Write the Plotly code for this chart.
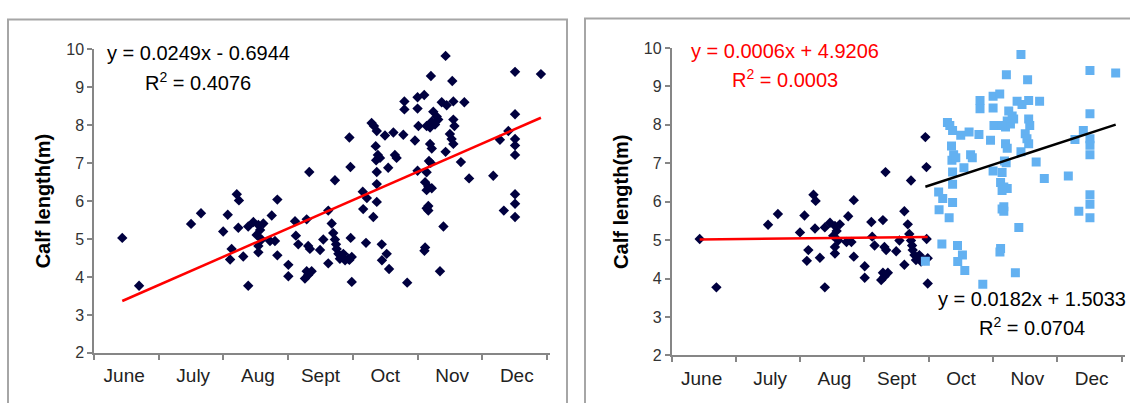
import plotly.graph_objects as go

# ---------------- data (day of year, calf length in m) ----------------
early_day = [163.1, 170.9, 195.0, 199.6, 209.9, 212.0, 213.8, 213.1, 216.2, 217.2,
             216.9, 219.2, 221.5, 221.5, 223.9, 226.2, 228.5, 227.0, 225.4, 227.7,
             226.2, 226.2, 232.4, 231.6, 233.9, 235.0, 235.0, 240.1, 240.1, 243.2,
             243.6, 244.7, 248.6, 249.3, 250.1, 248.6, 247.8, 250.9, 249.3, 249.8,
             254.8, 256.3, 258.6, 258.6, 261.7, 268.4, 268.9, 260.2, 260.9, 261.7,
             262.2, 262.5, 263.3, 264.0, 265.6, 266.4, 267.9, 269.5, 269.0, 269.5]
early_len = [5.03, 3.77, 5.40, 5.68, 5.20, 5.64, 4.74, 4.46, 6.18, 6.02,
             5.30, 4.54, 3.77, 5.33, 5.45, 5.37, 5.41, 5.24, 5.11, 4.99,
             4.82, 4.65, 5.62, 4.95, 4.95, 6.04, 4.57, 4.32, 4.02, 5.47,
             5.09, 4.86, 5.52, 4.82, 4.74, 4.15, 3.96, 4.15, 4.05, 6.77,
             4.71, 4.99, 5.75, 4.36, 6.55, 7.68, 6.90, 5.41, 5.16, 4.99,
             4.86, 4.74, 4.61, 4.48, 4.61, 4.44, 4.48, 4.53, 5.03, 3.87]

late_day = [268.4, 274.6, 276.5, 274.8, 276.1, 278.7, 279.8, 281.1, 280.6, 280.8,
            281.6, 282.6, 281.1, 281.1, 281.1, 279.5, 283.4, 285.7, 283.5, 286.8,
            295.2, 284.9, 288.8, 293.4, 286.4, 289.5, 290.3, 293.9, 293.9, 298.8,
            300.0, 300.0, 300.4, 303.1, 306.2, 311.2, 313.5, 316.6, 321.7, 307.3,
            308.9, 309.6, 306.6, 308.1, 305.8, 304.2, 316.6, 317.1, 315.0, 315.8,
            316.6, 305.8, 306.6, 313.0, 320.1, 323.9, 306.1, 305.3, 300.0, 304.2,
            303.5, 305.0, 306.6, 304.2, 305.0, 304.2, 305.0, 312.0, 303.5, 303.2,
            310.4, 313.0, 316.1, 335.1, 338.2, 342.1, 345.2, 345.2, 345.2, 345.2,
            345.2, 345.2, 345.2, 345.2, 340.0, 357.2]
late_len = [4.45, 6.25, 6.08, 5.79, 4.90, 8.06, 7.98, 7.85, 7.45, 7.08,
            7.22, 7.14, 6.77, 6.45, 5.98, 5.58, 4.86, 4.61, 4.44, 4.21,
            3.85, 7.73, 7.81, 7.75, 6.88, 7.22, 7.14, 8.63, 8.42, 7.60,
            8.74, 8.44, 7.98, 8.80, 9.30, 8.61, 8.53, 8.63, 8.61, 8.36,
            8.23, 8.15, 8.10, 8.02, 7.94, 7.98, 8.15, 7.98, 7.77, 7.64,
            7.51, 7.51, 7.39, 7.30, 7.03, 6.60, 7.01, 7.06, 6.80, 6.76,
            6.50, 6.38, 6.34, 6.29, 5.87, 5.81, 5.75, 5.33, 4.78, 4.69,
            4.15, 9.83, 9.17, 6.67, 7.62, 7.85, 8.29, 7.64, 7.47, 7.22,
            9.41, 6.18, 5.93, 5.58, 5.75, 9.35]

month_labels = ["June", "July", "Aug", "Sept", "Oct", "Nov", "Dec"]
month_label_days = [164, 196, 226, 255, 285, 316, 346]
month_bounds = [150, 180, 210, 240, 270, 300, 330, 360]
y_ticks = [2, 3, 4, 5, 6, 7, 8, 9, 10]

# trendlines (slope, intercept, R2) as printed on the chart
fit_all = (0.0249, -0.6944, 0.4076)
fit_early = (0.0006, 4.9206, 0.0003)
fit_late = (0.0182, 1.5033, 0.0704)

# ---------------- styles ----------------
NAVY = "#00003F"
SKY = "#63B1F1"
AXIS = "#868686"
FONT = "Arial, Liberation Sans, sans-serif"
W, H = 1130, 403


def trend(xs, fit):
    lo, hi = min(xs), max(xs)
    return [lo, hi], [fit[0] * lo + fit[1], fit[0] * hi + fit[1]]


all_day = early_day + late_day
all_len = early_len + late_len

fig = go.Figure()

# left panel
fig.add_trace(go.Scatter(x=all_day, y=all_len, mode="markers", xaxis="x", yaxis="y",
                         marker=dict(symbol="diamond", size=8, color=NAVY), showlegend=False))
tx, ty = trend(all_day, fit_all)
fig.add_trace(go.Scatter(x=tx, y=ty, mode="lines", xaxis="x", yaxis="y",
                         line=dict(color="#FF0000", width=2.5), showlegend=False))

# right panel
fig.add_trace(go.Scatter(x=early_day, y=early_len, mode="markers", xaxis="x2", yaxis="y2",
                         marker=dict(symbol="diamond", size=8, color=NAVY), showlegend=False))
fig.add_trace(go.Scatter(x=late_day, y=late_len, mode="markers", xaxis="x2", yaxis="y2",
                         marker=dict(symbol="square", size=9, color=SKY), showlegend=False))
tx, ty = trend(early_day, fit_early)
fig.add_trace(go.Scatter(x=tx, y=ty, mode="lines", xaxis="x2", yaxis="y2",
                         line=dict(color="#FF0000", width=2.5), showlegend=False))
tx, ty = trend(late_day, fit_late)
fig.add_trace(go.Scatter(x=tx, y=ty, mode="lines", xaxis="x2", yaxis="y2",
                         line=dict(color="#000000", width=2.5), showlegend=False))


def xaxis(domain, anchor):
    return dict(domain=domain, anchor=anchor, range=[150, 361.5],
                tickmode="array", tickvals=month_label_days, ticktext=month_labels,
                ticks="", showline=True, linecolor=AXIS, linewidth=1.5,
                showgrid=False, zeroline=False, ticklabelstandoff=5,
                tickfont=dict(family=FONT, size=19, color="#222222"),
                minor=dict(tickmode="array", tickvals=month_bounds, ticks="outside",
                           ticklen=5, tickcolor=AXIS, tickwidth=1.5, showgrid=False))


def yaxis(domain, anchor):
    return dict(domain=domain, anchor=anchor, range=[2, 10],
                tickmode="array", tickvals=y_ticks, ticks="outside", ticklen=5,
                tickcolor=AXIS, tickwidth=1.5, showline=True, linecolor=AXIS, linewidth=1.5,
                showgrid=False, zeroline=False,
                tickfont=dict(family=FONT, size=16, color="#333333"),
                title=dict(text="<b>Calf length(m)</b>", standoff=10,
                           font=dict(family=FONT, size=20, color="#000000")))


fig.update_layout(
    width=W, height=H, margin=dict(l=0, r=0, t=0, b=0),
    paper_bgcolor="white", plot_bgcolor="white",
    xaxis=xaxis([94 / W, 550.2 / W], "y"),
    yaxis=yaxis([(H - 360) / H, (H - 43.3) / H], "x"),
    xaxis2=xaxis([671.6 / W, 1124.9 / W], "y2"),
    yaxis2=yaxis([(H - 362.7) / H, (H - 41.7) / H], "x2"),
)

# chart frames
fig.add_shape(type="rect", xref="paper", yref="paper", x0=8 / W, x1=567 / W,
              y0=-0.1, y1=(H - 12) / H, line=dict(color="#A6A6A6", width=2), layer="below")
fig.add_shape(type="rect", xref="paper", yref="paper", x0=585 / W, x1=1.1,
              y0=-0.1, y1=(H - 11) / H, line=dict(color="#A6A6A6", width=2), layer="below")


def eq_text(fit):
    sign = "-" if fit[1] < 0 else "+"
    return f"y = {fit[0]:.4f}x {sign} {abs(fit[1]):.4f}", f"R<sup>2</sup> = {fit[2]:.4f}"


def add_eq(fit, xc, y1, y2, color):
    t1, t2 = eq_text(fit)
    for t, yy in ((t1, y1), (t2, y2)):
        fig.add_annotation(text=t, xref="paper", yref="paper", x=xc / W, y=(H - yy) / H,
                           xanchor="center", yanchor="middle", showarrow=False,
                           font=dict(family=FONT, size=20, color=color))


add_eq(fit_all, 198, 47, 77, "#000000")
add_eq(fit_early, 785, 45, 74, "#FF0000")
add_eq(fit_late, 1032, 304, 333, "#000000")

fig.write_html("out.html")
